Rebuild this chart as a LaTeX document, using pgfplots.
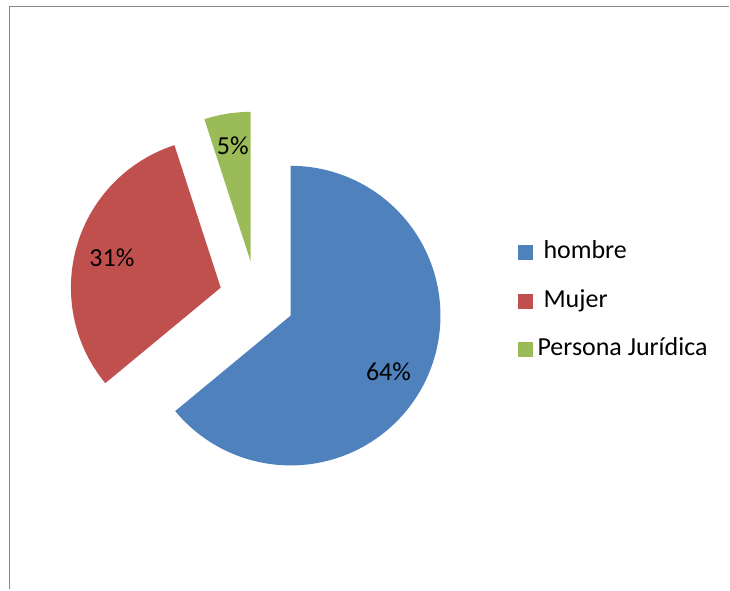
\documentclass[border=0pt]{standalone}
\usepackage{pgfplots}
\pgfplotsset{compat=1.18}
\usepackage{fontspec}
\setmainfont{Carlito}
\definecolor{sBlue}{HTML}{4F81BD}
\definecolor{sRed}{HTML}{C0504D}
\definecolor{sGreen}{HTML}{9BBB59}
\definecolor{frameGray}{HTML}{898989}
% shares (percent)
\def\vA{64}\def\vB{31}\def\vC{5}
\pgfmathsetmacro{\aA}{90-3.6*\vA}       % end of hombre
\pgfmathsetmacro{\aB}{90+3.6*\vC}       % start of Mujer / end of Persona
\pgfmathsetmacro{\aBend}{\aB+3.6*\vB}
\begin{document}
\begin{tikzpicture}
\begin{axis}[
  width=730bp, height=590bp, scale only axis,
  xmin=0, xmax=730, ymin=0, ymax=590, y dir=reverse,
  hide axis, clip=false,
  legend style={at={(axis cs:518,241)}, anchor=north west, draw=none, fill=none,
    font=\fontsize{26bp}{31bp}\selectfont, inner sep=0pt,
    row sep=24.5bp, column sep=11bp,
    nodes={inner sep=0pt, text height=18bp, text depth=6bp}},
  legend cell align=left,
  legend image code/.code={\fill[#1,draw=none] (0bp,-7.5bp) rectangle (15bp,7.5bp);},
]
% bounding corners
\addplot[draw=none, forget plot] coordinates {(0,0) (730,590)};
% frame
\addplot[frameGray, line width=1.8bp, forget plot] coordinates {(9.5,590) (9.5,6.5) (730,6.5)};
% hombre
\addplot[fill=sBlue, draw=none, domain=\aA:90, samples=120, variable=\t]
  ({291+150*cos(\t)},{316-150*sin(\t)}) -- (axis cs:291,316) -- cycle;
\addlegendentry{hombre}
% Mujer
\addplot[fill=sRed, draw=none, domain=\aB:\aBend, samples=80, variable=\t]
  ({221+150*cos(\t)},{288-150*sin(\t)}) -- (axis cs:221,288) -- cycle;
\addlegendentry{Mujer}
% Persona Juridica
\addplot[fill=sGreen, draw=none, domain=90:\aB, samples=20, variable=\t]
  ({251+150*cos(\t)},{262-150*sin(\t)}) -- (axis cs:251,262) -- cycle;
\addlegendentry{\hspace{-6bp}Persona Jurídica}
\begin{scope}[font=\fontsize{26bp}{31bp}\selectfont]
\node at (axis cs:389,372) {64\%};
\node at (axis cs:112,258) {31\%};
\node at (axis cs:233,146) {5\%};
\end{scope}
\end{axis}
\end{tikzpicture}
\end{document}
